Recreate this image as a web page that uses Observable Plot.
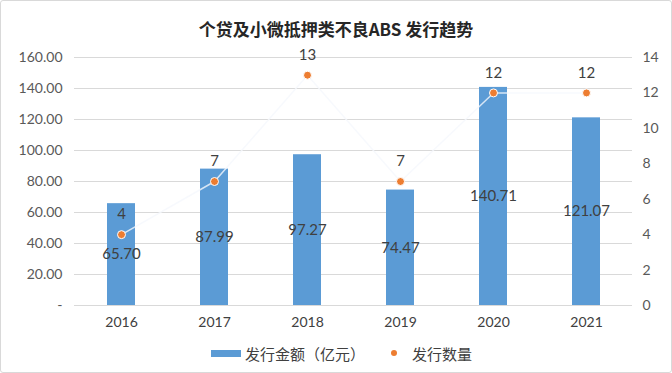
<!DOCTYPE html>
<html>
<head>
<meta charset="utf-8">
<script src="https://cdn.jsdelivr.net/npm/d3@7"></script>
<script src="https://cdn.jsdelivr.net/npm/@observablehq/plot@0.6"></script>
<style>
  html, body { margin: 0; padding: 0; background: #fff; }
  #wrap { position: relative; width: 670px; height: 371px; border: 1px solid #d9d9d9; border-radius: 3px; overflow: hidden;
    font-family: Lato, "Noto Sans CJK SC", sans-serif; color: #404040; }
  #title { height: 37px; line-height: 1; padding-top: 19px; box-sizing: border-box; text-align: center; font-size: 17px; font-weight: bold; color: #262626;
    font-family: "Noto Sans CJK SC", sans-serif; }
  #chart svg { display: block; }
  #legend { display: flex; justify-content: flex-start; align-items: center; height: 38px; font-size: 15px; font-family: "Noto Sans CJK SC", sans-serif; color: #404040; padding-left: 210px; }
  .sw { display: inline-block; width: 30px; height: 7px; background: #5b9bd5; margin-right: 4px; }
  .dot { display: inline-block; width: 6px; height: 6px; border-radius: 50%; background: #ed7d31; margin-left: 26px; margin-right: 15px; }
</style>
</head>
<body>
<div id="wrap">
  <div id="title">个贷及小微抵押类不良ABS 发行趋势</div>
  <div id="chart"></div>
  <div id="legend"><span class="sw"></span><span>发行金额（亿元）</span><span class="dot"></span><span>发行数量</span></div>
</div>
<script>
const years = ["2016", "2017", "2018", "2019", "2020", "2021"];
const amounts = [65.70, 87.99, 97.27, 74.47, 140.71, 121.07];
const counts = [4, 7, 13, 7, 12, 12];
const leftTicks = [0, 20, 40, 60, 80, 100, 120, 140, 160];
const rightTicks = [0, 2, 4, 6, 8, 10, 12, 14];

const leftMax = 160, rightMax = 14;
const toLeft = c => c * leftMax / rightMax;

const data = years.map((y, i) => ({year: y, amount: amounts[i], count: counts[i], cy: toLeft(counts[i])}));

const chart = Plot.plot({
  width: 670,
  height: 296,
  marginTop: 19,
  marginBottom: 29,
  marginLeft: 73,
  marginRight: 39,
  style: {fontFamily: "Lato, 'Noto Sans CJK SC', sans-serif", fontSize: "14px", color: "#595959"},
  x: {domain: years, paddingInner: 0.7, paddingOuter: 0.35, align: 0.5},
  y: {domain: [0, leftMax]},
  marks: [
    Plot.ruleY(leftTicks, {stroke: "#d9d9d9", strokeWidth: 1}),
    Plot.axisY(leftTicks, {anchor: "left", tickSize: 0, tickPadding: 12, fontSize: 14, fill: "#595959",
      tickFormat: d => d === 0 ? "-" : d.toFixed(2), label: null}),
    Plot.axisY(rightTicks.map(toLeft), {anchor: "right", tickSize: 0, tickPadding: 10, fontSize: 14, fill: "#595959",
      tickFormat: d => String(Math.round(d * rightMax / leftMax)), textAnchor: "start", label: null}),
    Plot.barY(data, {x: "year", y: "amount", fill: "#5b9bd5"}),
    Plot.axisX({tickSize: 0, tickPadding: 12, fontSize: 14, fill: "#404040", label: null}),
    Plot.line(data, {x: "year", y: "cy", stroke: "#f5f8fc", strokeWidth: 1.5, strokeOpacity: 0.8}),
    Plot.dot(data, {x: "year", y: "cy", r: 4, fill: "#ed7d31", stroke: "#fff", strokeWidth: 1}),
    Plot.text(data, {x: "year", y: d => d.amount / 2, text: d => d.amount.toFixed(2), fontSize: 15, fill: "#404040"}),
    Plot.text(data, {x: "year", y: "cy", dy: -20, text: d => String(d.count), fontSize: 15, fill: "#404040"})
  ]
});
document.getElementById("chart").appendChild(chart);
</script>
</body>
</html>
